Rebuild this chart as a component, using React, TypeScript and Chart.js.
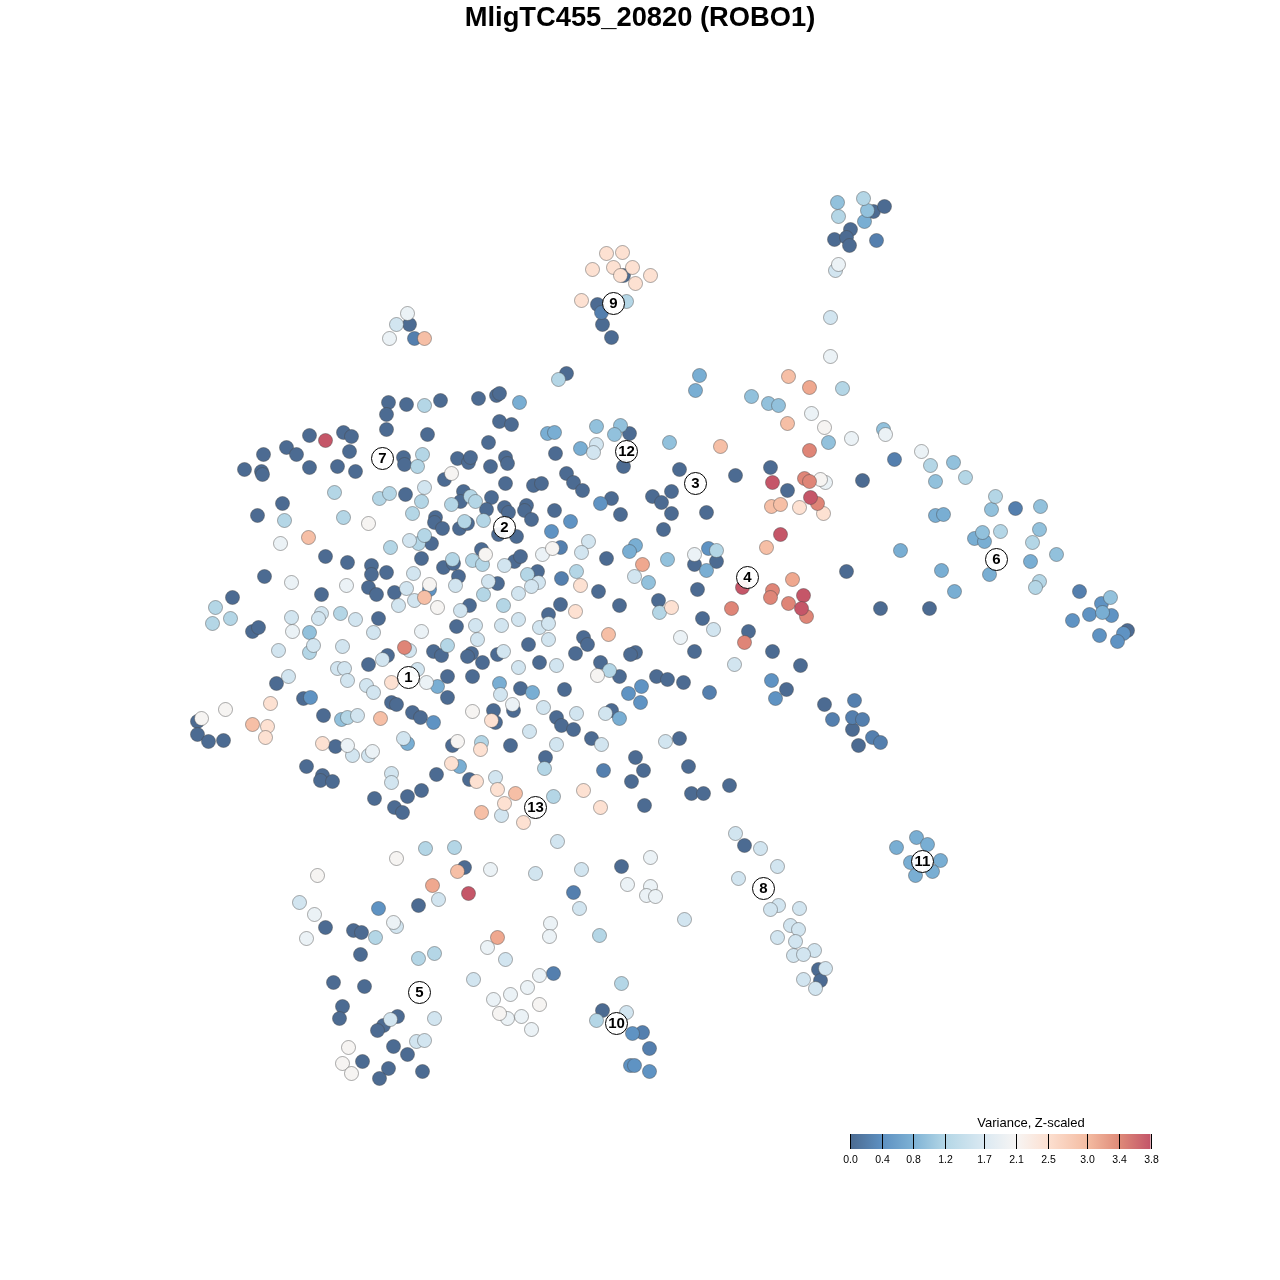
import React, { useEffect, useRef } from "react";
import { Chart, registerables } from "chart.js";

Chart.register(...registerables);

const chartTitle = "MligTC455_20820 (ROBO1)";
const legendTitle = "Variance, Z-scaled";
const legendTicks = [0.0, 0.4, 0.8, 1.2, 1.7, 2.1, 2.5, 3.0, 3.4, 3.8];
const legendStops = ["#4b6a90", "#5d90c1", "#7eb2d5", "#b3d6e6", "#dbe9f2", "#f7f5f4", "#fce0d1", "#f4bca2", "#df8b79", "#c35569"];

// Embedding coordinates, as flat x,y lists, one list per variance band
const band00 = [388,402,406,404,440,400,478,398,496,395,499,393,386,414,386,429,427,434,499,421,511,424,309,435,343,432,351,436,263,454,286,447,296,454,349,451,244,469,261,471,262,474,309,467,337,466,355,471,403,457,404,464,457,458,468,462,470,457,488,442,490,466,505,457,507,463,444,479,405,494,463,491,460,501,491,497,505,483,486,509,504,507,508,512,282,503,257,515,435,517,434,522,442,528,459,528,467,523,498,534,516,536,431,543,421,558,481,549,325,556,347,562,371,565,371,574,386,572,264,576,443,567,453,563,458,576,497,583,232,597,321,594,368,587,376,594,394,592,469,605,378,618,252,631,258,627,456,626,387,655,368,664,433,651,441,655,471,653,467,656,482,662,497,654,276,683,447,676,472,676,447,697,303,698,391,702,396,704,412,712,420,717,493,710,495,722,323,715,197,721,197,734,208,741,223,740,335,746,452,745,510,745,306,766,322,775,320,780,332,781,436,774,469,779,374,798,407,796,421,790,394,807,402,812,533,485,541,483,555,453,566,473,573,482,582,490,623,466,629,433,679,469,735,475,770,467,787,490,526,505,524,510,531,519,554,510,611,498,620,514,652,496,671,491,661,502,671,513,706,512,663,529,514,561,520,556,606,558,694,564,716,561,537,571,598,591,697,589,658,600,560,604,548,614,619,605,702,618,528,644,583,637,587,644,575,653,635,652,630,654,748,631,694,651,772,651,800,665,539,662,600,662,619,676,656,676,667,679,683,682,520,688,564,689,786,689,513,710,556,717,561,725,573,729,611,710,591,738,679,738,545,757,635,757,643,770,631,781,688,766,691,793,703,793,729,785,644,805,846,571,862,480,880,608,929,608,873,211,884,206,850,229,834,239,846,237,849,245,623,275,597,304,602,324,611,337,409,324,566,373,852,729,858,745,824,704,818,969,820,980,744,845,621,866,602,1010,464,867,418,905,325,927,353,930,361,932,360,954,333,982,364,986,342,1006,339,1018,397,1016,383,1025,377,1030,393,1046,407,1054,362,1061,388,1068,422,1071,379,1078,1127,630];
const band01 = [560,547,561,578,709,692,603,770,876,240,601,312,414,338,894,459,1015,508,1079,591,832,719,854,700,852,717,862,719,872,737,880,742,573,892,553,973,642,1032,649,1048];
const band02 = [429,589,310,697,433,722,600,503,570,521,551,531,708,548,641,686,628,693,640,702,771,680,775,698,378,908,632,1033,630,1065,634,1065,649,1071,1101,603,1089,614,1111,615,1072,620,1123,633,1099,635,1117,641];
const band03 = [437,686,499,683,407,743,459,766,519,402,547,433,554,432,580,448,635,545,629,551,706,570,532,692,619,718,699,375,695,390,864,221,935,515,943,514,974,538,984,541,989,574,941,570,954,591,900,550,1030,561,1102,612,916,837,927,844,896,847,910,862,940,860,915,875,932,871];
const band04 = [309,632,341,719,596,426,620,425,614,434,669,442,667,559,648,582,837,202,867,210,751,396,768,403,778,405,828,442,883,429,953,462,935,481,991,509,1040,506,982,532,1039,529,1056,554,1110,597];
const band05 = [424,405,422,454,417,466,334,492,379,498,389,493,421,501,412,513,470,496,475,501,451,504,284,520,343,517,464,521,483,520,390,547,418,543,424,535,452,559,472,560,482,564,483,594,503,605,215,607,230,618,212,623,340,613,309,652,447,645,347,717,481,742,527,574,576,571,716,550,659,612,609,670,544,768,553,796,558,379,626,301,863,198,838,216,842,388,930,465,965,477,995,496,1000,531,1032,542,1039,581,1035,587,425,848,454,847,375,937,418,958,434,953,599,935,621,983,596,1020];
const band06 = [424,487,409,540,413,573,455,585,488,581,504,565,406,588,398,605,414,600,460,610,291,617,321,613,318,618,355,619,313,645,342,646,278,650,373,632,475,625,501,625,477,639,409,650,382,659,503,651,337,668,344,668,347,680,288,676,366,685,373,692,417,669,500,694,357,715,403,738,352,755,368,755,391,773,391,782,495,777,501,815,596,444,593,452,588,541,581,552,538,582,531,586,518,593,634,576,518,619,539,627,548,623,548,639,713,629,734,664,556,665,518,667,543,707,576,713,605,713,529,731,601,744,665,741,556,744,557,841,735,833,396,324,835,270,830,317,760,848,777,866,738,878,778,905,770,909,799,908,790,925,798,929,777,937,795,941,814,950,793,955,803,954,825,968,803,979,815,988,581,869,579,908,684,919,626,1012,535,873,438,899,299,902,396,926,505,959,473,979,434,1018,390,1019,416,1041,424,1040];
const band07 = [280,543,291,582,346,585,292,631,421,631,426,682,347,745,372,751,512,704,542,554,694,554,680,637,407,313,389,338,838,264,830,356,811,413,851,438,885,434,921,451,825,482,490,869,650,857,627,884,650,886,646,895,655,896,314,914,393,922,306,938,550,923,549,936,487,947,539,975,527,987,510,994,493,999,507,1018,521,1016,531,1029];
const band08 = [451,473,368,523,485,554,429,584,437,607,472,711,225,709,201,718,457,741,552,548,597,675,824,427,820,479,396,858,317,875,499,1013,539,1004,348,1047,342,1063,351,1073];
const band09 = [391,682,270,703,267,726,265,737,322,743,491,720,451,763,480,749,476,781,497,789,504,803,580,585,671,607,575,611,583,790,600,807,523,822,799,507,823,513,606,253,622,252,592,269,613,267,632,267,650,275,620,275,635,283,581,300];
const band10 = [308,537,424,597,252,724,380,718,481,812,515,793,720,446,766,547,771,506,780,504,608,634,788,376,787,423,424,338,457,871];
const band11 = [642,564,792,579,809,387,432,885,497,937];
const band12 = [404,647,731,608,772,590,770,597,744,642,809,450,804,478,809,481,817,503,788,603,806,616];
const band13 = [325,440,772,482,780,534,742,587,810,497,803,595,801,608,468,893];

const bands = [band00, band01, band02, band03, band04, band05, band06, band07, band08, band09, band10, band11, band12, band13];
const bandColors = ["#4c6b92", "#547fae", "#5f93c3", "#79aed3", "#92c1dc", "#b4d6e6", "#d2e5f0", "#ebf2f6", "#f6f4f2", "#fde1d2", "#f6bfa6", "#efa88f", "#df8577", "#c55668"];

const clusterIds = ["1", "2", "3", "4", "5", "6", "7", "8", "9", "10", "11", "12", "13"];
const clusterX = [408, 504, 695, 747, 419, 996, 382, 763, 613, 616, 922, 626, 535];
const clusterY = [677, 527, 483, 577, 992, 559, 458, 888, 303, 1023, 861, 451, 807];

const FONT = '"Liberation Sans", Arial, sans-serif';

const toPoints = (flat: number[]) => {
  const pts: { x: number; y: number }[] = [];
  for (let i = 0; i < flat.length; i += 2) pts.push({ x: flat[i], y: flat[i + 1] });
  return pts;
};

const overlayPlugin = {
  id: "overlay",
  afterDatasetsDraw(chart: any) {
    const ctx = chart.ctx;
    // cluster numbers
    const meta = chart.getDatasetMeta(chart.data.datasets.length - 1);
    ctx.save();
    ctx.fillStyle = "#000";
    ctx.textAlign = "center";
    ctx.textBaseline = "middle";
    ctx.font = `bold 15px ${FONT}`;
    meta.data.forEach((el: any, i: number) => ctx.fillText(clusterIds[i], el.x, el.y + 0.5));

    // colour bar
    const left = 850, right = 1150.5, top = 1134, bottom = 1149;
    const maxV = legendTicks[legendTicks.length - 1];
    const xOf = (v: number) => left + (v / maxV) * (right - left);
    const grad = ctx.createLinearGradient(left, 0, right, 0);
    legendTicks.forEach((v, i) => grad.addColorStop(v / maxV, legendStops[i]));
    ctx.fillStyle = grad;
    ctx.fillRect(left, top, right - left, bottom - top);
    ctx.strokeStyle = "#000";
    ctx.lineWidth = 1;
    ctx.fillStyle = "#000";
    ctx.font = `10.5px ${FONT}`;
    legendTicks.forEach((v) => {
      const x = Math.round(xOf(v)) + 0.5;
      ctx.beginPath();
      ctx.moveTo(x, top);
      ctx.lineTo(x, bottom);
      ctx.stroke();
      ctx.fillText(v.toFixed(1), x, 1160);
    });
    ctx.font = `13px ${FONT}`;
    ctx.fillText(legendTitle, 1031, 1123);
    ctx.restore();
  },
};

export default function App() {
  const ref = useRef<HTMLCanvasElement>(null);
  useEffect(() => {
    document.body.style.margin = "0";
    const datasets: any[] = bands.map((b, i) => ({
      label: `band ${i}`,
      data: toPoints(b),
      backgroundColor: bandColors[i],
      borderColor: "rgba(70,70,70,0.45)",
      borderWidth: 1,
      pointRadius: 7,
      order: 100 - i,
      clip: false,
    }));
    datasets.push({
      label: "clusters",
      data: clusterX.map((x, i) => ({ x, y: clusterY[i] })),
      backgroundColor: "rgba(255,255,255,0.93)",
      borderColor: "#000",
      borderWidth: 1,
      pointRadius: 11,
      order: 0,
      clip: false,
    });
    const chart = new Chart(ref.current as HTMLCanvasElement, {
      type: "scatter",
      data: { datasets },
      options: {
        animation: false,
        responsive: false,
        layout: { padding: 0, autoPadding: false },
        events: [],
        plugins: {
          legend: { display: false },
          tooltip: { enabled: false },
          title: {
            display: true,
            text: chartTitle,
            color: "#000",
            font: { family: FONT, size: 27.3, weight: "bold", lineHeight: 1 },
            padding: { top: 5, bottom: 7.7 },
          },
        },
        scales: {
          x: { type: "linear", display: false, min: -0.5, max: 1279.5 },
          y: { type: "linear", display: false, min: 39.5, max: 1279.5, reverse: true },
        },
      },
      plugins: [overlayPlugin],
    } as any);
    return () => chart.destroy();
  }, []);
  return <canvas ref={ref} width={1280} height={1280} style={{ display: "block" }} />;
}
